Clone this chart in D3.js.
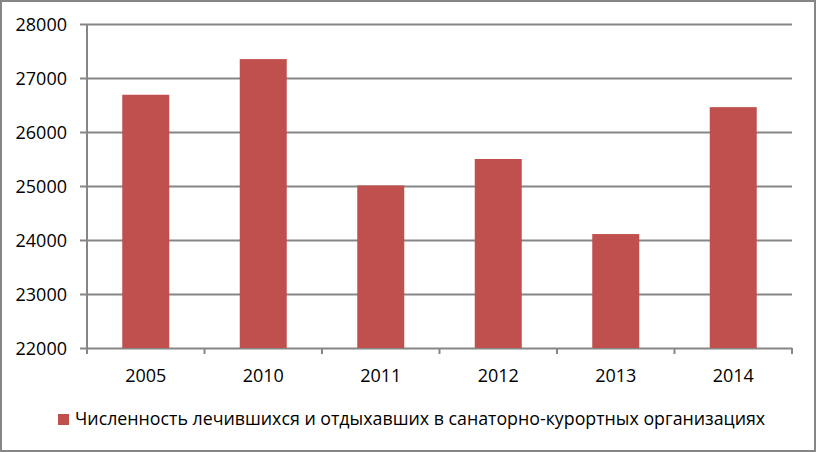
<!DOCTYPE html>
<html>
<head>
<meta charset="utf-8">
<script src="https://cdn.jsdelivr.net/npm/d3@7"></script>
<style>
  body { margin: 0; background: #fff; }
  text { font-family: "Open Sans", "Noto Sans", sans-serif; fill: #000; }
</style>
</head>
<body>
<div id="chart"></div>
<script>
// data
const years = ["2005", "2010", "2011", "2012", "2013", "2014"];
const values = [26690, 27350, 25010, 25500, 24110, 26460];
const yTicks = [22000, 23000, 24000, 25000, 26000, 27000, 28000];
const seriesName = "Численность лечившихся и отдыхавших в санаторно-курортных организациях";

const width = 816;
const height = 452;
const margin = { top: 24, left: 87, right: 24, bottom: 104 };
const gridColor = "#868686";
const barColor = "#C0504D";

const svg = d3.select("#chart").append("svg")
    .attr("width", width)
    .attr("height", height);

// outer border
svg.append("rect")
    .attr("x", 1).attr("y", 1)
    .attr("width", width - 2).attr("height", height - 2)
    .attr("fill", "#fff")
    .attr("stroke", gridColor)
    .attr("stroke-width", 2);

const x = d3.scaleBand()
    .domain(years)
    .range([margin.left, width - margin.right])
    .paddingInner(0.6)
    .paddingOuter(0.3);

const y = d3.scaleLinear()
    .domain([22000, 28000])
    .range([height - margin.bottom, margin.top]);

// gridlines + y tick marks
const yAxis = d3.axisLeft(y)
    .tickValues(yTicks)
    .tickFormat(d3.format("d"))
    .tickSize(-(width - margin.right - margin.left))
    .tickSizeOuter(0)
    .tickPadding(20);

const yG = svg.append("g")
    .attr("transform", `translate(${margin.left},0)`)
    .call(yAxis);
yG.select(".domain").remove();
yG.selectAll(".tick line")
    .attr("x1", -7)
    .attr("stroke", gridColor)
    .attr("stroke-width", 2);
yG.selectAll(".tick text")
    .attr("font-size", 18)
    .attr("font-family", "Open Sans")
    .attr("dy", "0.34em");

// bars
svg.selectAll("rect.bar")
    .data(values)
    .join("rect")
    .attr("class", "bar")
    .attr("x", (d, i) => x(years[i]))
    .attr("y", d => y(d))
    .attr("width", x.bandwidth())
    .attr("height", d => y(22000) - y(d))
    .attr("fill", barColor);

// left axis line
svg.append("line")
    .attr("x1", margin.left).attr("x2", margin.left)
    .attr("y1", margin.top).attr("y2", y(22000))
    .attr("stroke", gridColor)
    .attr("stroke-width", 2);

// category boundary ticks
const bounds = d3.range(years.length + 1).map(i => margin.left + i * (width - margin.right - margin.left) / years.length);
svg.selectAll("line.catTick")
    .data(bounds)
    .join("line")
    .attr("class", "catTick")
    .attr("x1", d => d).attr("x2", d => d)
    .attr("y1", y(22000)).attr("y2", y(22000) + 6)
    .attr("stroke", gridColor)
    .attr("stroke-width", 2);

// x labels
svg.selectAll("text.year")
    .data(years)
    .join("text")
    .attr("class", "year")
    .attr("x", d => x(d) + x.bandwidth() / 2)
    .attr("y", 382)
    .attr("text-anchor", "middle")
    .attr("font-size", 18)
    .text(d => d);

// legend
const legendG = svg.append("g").attr("transform", "translate(58,414)");
legendG.append("rect")
    .attr("width", 11).attr("height", 11)
    .attr("fill", barColor);
legendG.append("text")
    .attr("x", 17).attr("y", 11)
    .attr("font-size", 17.8)
    .text(seriesName);
</script>
</body>
</html>
